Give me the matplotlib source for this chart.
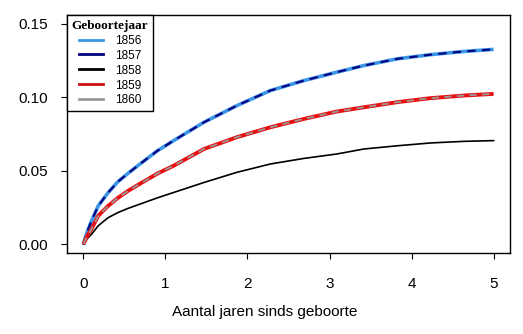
import matplotlib
matplotlib.use("Agg")
import matplotlib.pyplot as plt
from matplotlib.lines import Line2D

plt.rcParams['font.family'] = ['Liberation Sans', 'DejaVu Sans']

# data (x = years since birth, y = cumulative proportion)
x_pts = [0.0, 0.05, 0.1, 0.18, 0.3, 0.42, 0.55, 0.7, 0.9, 1.1, 1.47, 1.87, 2.28, 2.69, 3.09, 3.42, 3.83, 4.23, 4.64, 5.0]
y_1856 = [0.0, 0.009, 0.016, 0.026, 0.035, 0.0425, 0.0485, 0.055, 0.0635, 0.0705, 0.083, 0.0943, 0.1046, 0.1114, 0.1171, 0.1216, 0.1262, 0.129, 0.1312, 0.1326]
y_1857 = [0.0, 0.009, 0.016, 0.026, 0.035, 0.0425, 0.0485, 0.055, 0.0635, 0.0705, 0.083, 0.0943, 0.1046, 0.1114, 0.1171, 0.1216, 0.1262, 0.129, 0.1312, 0.1326]
y_1858 = [0.0, 0.004, 0.0068, 0.0125, 0.018, 0.0215, 0.0245, 0.0275, 0.0315, 0.0352, 0.042, 0.0489, 0.0546, 0.0584, 0.0614, 0.0648, 0.067, 0.0689, 0.07, 0.0705]
y_1859 = [0.0, 0.006, 0.0105, 0.0193, 0.026, 0.0315, 0.0365, 0.0415, 0.048, 0.0534, 0.0648, 0.0728, 0.0796, 0.0853, 0.0903, 0.0932, 0.0967, 0.0994, 0.1012, 0.1023]
y_1860 = [0.0, 0.006, 0.0105, 0.0193, 0.026, 0.0315, 0.0365, 0.0415, 0.048, 0.0534, 0.0648, 0.0728, 0.0796, 0.0853, 0.0903, 0.0932, 0.0967, 0.0994, 0.1012, 0.1023]
labels = ['1856', '1857', '1858', '1859', '1860']
x_ticks = [0, 1, 2, 3, 4, 5]
y_ticks = [0.00, 0.05, 0.10, 0.15]
y_ticklabels = ['0.00', '0.05', '0.10', '0.15']
x_label = 'Aantal jaren sinds geboorte'
legend_title = 'Geboortejaar'

fig = plt.figure(figsize=(5.23, 3.34), dpi=100)
ax = fig.add_axes([67/523, 1-253/334, 443/523, 238/334])

ax.plot(x_pts, y_1856, color='#3C96E6', lw=2.6, label=labels[0], solid_capstyle='butt', solid_joinstyle='round')
ax.plot(x_pts, y_1857, color='#000080', lw=1.5, ls=(0, (4, 3)), label=labels[1])
ax.plot(x_pts, y_1858, color='black', lw=1.2, label=labels[2], solid_joinstyle='round')
ax.plot(x_pts, y_1859, color='#E81010', lw=2.8, label=labels[3], solid_capstyle='butt', solid_joinstyle='round')
ax.plot(x_pts, y_1860, color='#999999', lw=1.3, ls=(0, (4, 3)), label=labels[4])

ax.set_xlim(-0.2, 5.2)
ax.set_ylim(-0.006, 0.156)
ax.set_xticks(x_ticks)
ax.set_xticklabels([str(t) for t in x_ticks])
ax.set_yticks(y_ticks)
ax.set_yticklabels(y_ticklabels)
for s in ax.spines.values():
    s.set_linewidth(1.0)
    s.set_color('black')
ax.tick_params(axis='x', direction='out', length=4, width=0.8, pad=13, labelsize=11, colors='black')
ax.tick_params(axis='y', direction='out', length=4, width=0.8, pad=10, labelsize=11, colors='black')

fig.text(264.6/523, 1-312/334, x_label, ha='center', va='center', fontsize=11)

leg_handles = [
    Line2D([], [], color='#3C96E6', lw=2.0),
    Line2D([], [], color='#000080', lw=2.0),
    Line2D([], [], color='black', lw=2.0),
    Line2D([], [], color='#CC1010', lw=2.0),
    Line2D([], [], color='#999999', lw=2.0),
]
leg = ax.legend(leg_handles, labels, title=legend_title, loc='upper left',
                fancybox=False, edgecolor='black', framealpha=1, fontsize=8.5,
                title_fontproperties={'family': 'Liberation Serif', 'weight': 'bold', 'size': 9.5},
                handlelength=2.0, handletextpad=1.0, labelspacing=0.25, borderpad=0.4,
                borderaxespad=0)
leg.get_frame().set_linewidth(1.0)

fig.savefig('out.png', dpi=100)
